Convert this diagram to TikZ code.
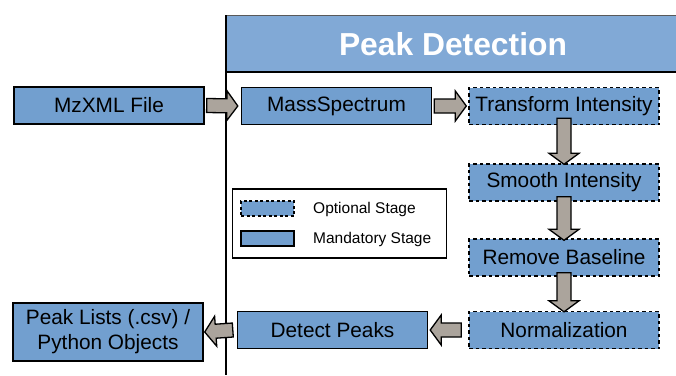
\documentclass[tikz,border=0pt]{standalone}
\usepackage{fontspec}
\setmainfont{Liberation Sans}
\usetikzlibrary{calc}

\definecolor{stageblue}{HTML}{729FCF}
\definecolor{headblue}{HTML}{81A9D6}
\definecolor{arrowgray}{HTML}{ABA49C}

\tikzset{
  stage/.style={draw=black, fill=stageblue, line width=1.4pt, minimum width=190pt,
    minimum height=37pt, inner sep=0pt, align=center,
    font=\fontsize{20.8}{24}\selectfont},
  optstage/.style={stage, dash pattern=on 3.5pt off 3pt},
  % block arrow from the start point to the target point
  blockarrow/.style={draw=black, fill=arrowgray, line width=1.3pt, line join=miter,
    to path={let \p1=(\tikztostart), \p2=(\tikztotarget),
      \p3=($(\p2)!11pt!(\p1)$) in
      ($(\p1)!7pt!90:(\p2)$) -- ($(\p3)!7pt!-90:(\p1)$) -- ($(\p3)!15pt!-90:(\p1)$)
      -- (\p2) -- ($(\p3)!15pt!90:(\p1)$) -- ($(\p3)!7pt!90:(\p1)$)
      -- ($(\p1)!7pt!-90:(\p2)$) -- cycle}},
  legendtext/.style={anchor=west, inner sep=0pt, font=\fontsize{15.5}{18}\selectfont},
}

\begin{document}
\begin{tikzpicture}[x=1pt, y=-1pt]
  \useasboundingbox (0,0) rectangle (676,375);

  % panel with its header
  \fill[headblue] (226,15) rectangle (676,72);
  \draw[draw=black!65, line width=1pt] (226,15) -- (676,15);
  \draw[black, line width=1.4pt] (226,72) -- (676,72);
  \draw[black, line width=1.3pt] (226,15) -- (226,375);
  \node[text=white, font=\fontsize{31.8}{36}\selectfont\bfseries] (title) at (453,44) {Peak Detection};

  % stages
  \node[stage] (mz) at (109,105.5) {MzXML File};
  \node[stage] (ms) at (336.5,106) {MassSpectrum};
  \node[optstage] (ti) at (564,106) {Transform Intensity};
  \node[optstage] (si) at (564,182.5) {Smooth Intensity};
  \node[optstage] (rb) at (564,257.5) {Remove Baseline};
  \node[optstage] (nz) at (564,330) {Normalization};
  \node[stage] (dp) at (332.5,330) {Detect Peaks};
  \node[stage, minimum height=58pt, font=\fontsize{20.8}{25}\selectfont] (pl) at (108,332)
    {Peak Lists (.csv) /\\Python Objects};

  % legend
  \node[draw=black, line width=1.3pt, minimum width=214pt, minimum height=69pt,
    inner sep=0pt] (legend) at (339.5,223.5) {};
  \node[draw=black, fill=stageblue, line width=1.3pt, dash pattern=on 3pt off 2.5pt,
    minimum width=53pt, minimum height=15pt, inner sep=0pt] (optkey) at (267.5,208.5) {};
  \node[draw=black, fill=stageblue, line width=1.3pt,
    minimum width=53pt, minimum height=15pt, inner sep=0pt] (mandkey) at (267.5,238.5) {};
  \node[legendtext] (opttext) at (313,209) {Optional Stage};
  \node[legendtext] (mandtext) at (313,239) {Mandatory Stage};

  % flow arrows
  \draw[blockarrow] ([xshift=2pt]mz.east) to ([xshift=-3pt]ms.west);
  \draw[blockarrow] ([xshift=2pt]ms.east) to ([xshift=-2pt]ti.west);
  \draw[blockarrow] ([yshift=7pt]ti.south) to ([yshift=-1pt]si.north);
  \draw[blockarrow] ([yshift=5pt]si.south) to ([yshift=-2pt]rb.north);
  \draw[blockarrow] ([yshift=4pt]rb.south) to ([yshift=-1pt]nz.north);
  \draw[blockarrow] ([xshift=-7pt]nz.west) to ([xshift=2pt]dp.east);
  \draw[blockarrow] ([xshift=-4pt]dp.west) to ([xshift=1pt]pl.east);
\end{tikzpicture}
\end{document}
